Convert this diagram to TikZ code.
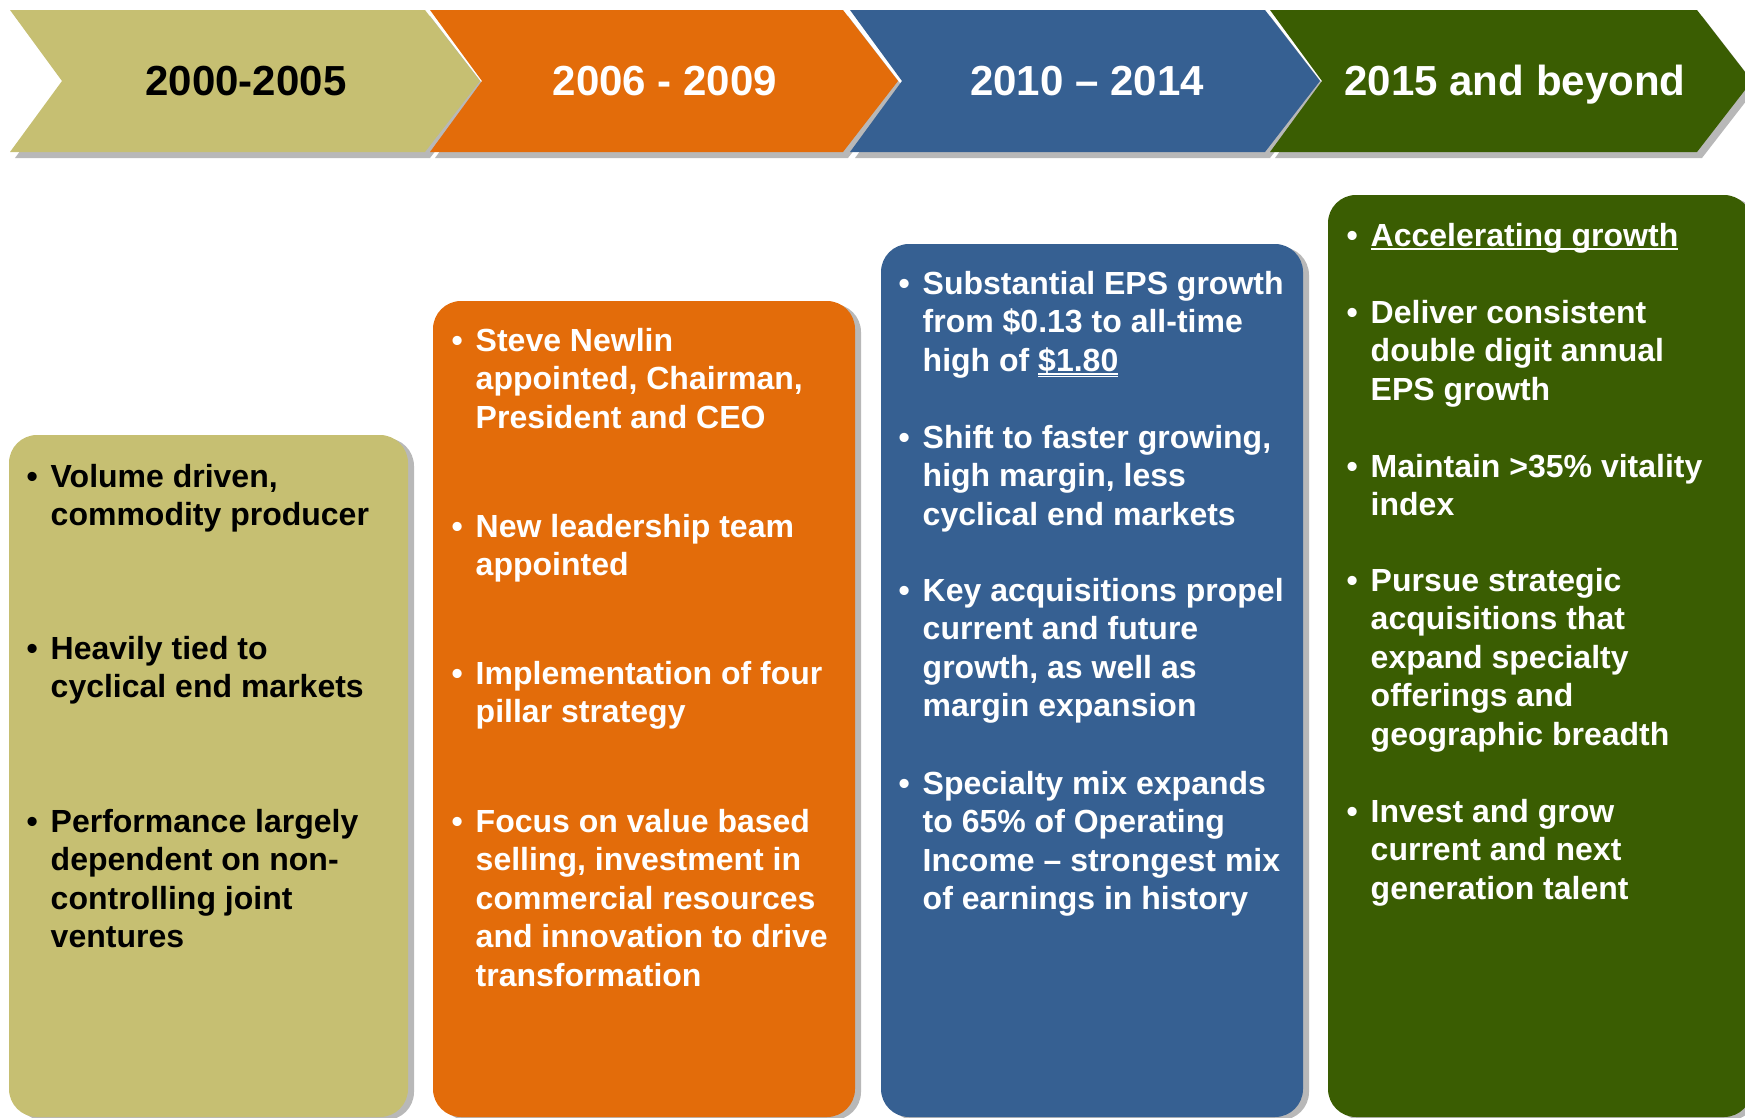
\documentclass[tikz,border=0pt]{standalone}
\usepackage{fontspec}
\setmainfont{Liberation Sans}
\usepackage{tikz}
\usetikzlibrary{shadows}
\definecolor{khaki}{HTML}{C6BF72}
\definecolor{amber}{HTML}{E36C0A}
\definecolor{steel}{HTML}{366092}
\definecolor{forest}{HTML}{3A5D02}
\tikzset{
  arrowbox/.style={drop shadow={shadow xshift=0.5mm, shadow yshift=-0.6mm, fill=black, opacity=0.28}},
  panel/.style={rounded corners=2.8mm, drop shadow={shadow xshift=0.6mm, shadow yshift=-0.3mm, fill=black, opacity=0.28}},
  head/.style={anchor=base, inner sep=0, font=\bfseries\fontsize{11.95pt}{14pt}\selectfont},
  item/.style={anchor=base west, inner sep=0, font=\bfseries\fontsize{9.1pt}{10.95pt}\selectfont},
}
\newsavebox{\ulbox}
\newcommand{\bul}[1]{\makebox[2.4mm][l]{•}\begin{tabular}[t]{@{}l@{}}#1\end{tabular}}
\newcommand{\uln}[1]{\sbox{\ulbox}{#1}\rlap{\rule[-0.13em]{\wd\ulbox}{0.06em}}\usebox{\ulbox}}
\newcommand{\uuln}[1]{\sbox{\ulbox}{#1}\rlap{\rule[-0.11em]{\wd\ulbox}{0.045em}}\rlap{\rule[-0.2em]{\wd\ulbox}{0.045em}}\usebox{\ulbox}}

\begin{document}
\begin{tikzpicture}[x=0.01cm, y=-0.01cm]
  \clip (0,0) rectangle (1745,1118);
  % period arrows
  \foreach \x/\w/\cx/\fc/\tc/\lab [count=\i] in {10/415/246/khaki/black/2000-2005, 430/413/665/amber/white/2006 - 2009,
      850/415/1087/steel/white/2010 – 2014, 1270/427/1515/forest/white/2015 and beyond}{
    \fill[arrowbox, \fc] (\x,10) -- ++(\w,0) -- ++(55,71) -- ++(-55,71) -- ++(-\w,0) -- ++(52,-71) -- cycle;
    \node[head, text=\tc] (h\i) at (\cx,95) {\lab};
  }

  % panels
  \fill[panel, khaki] (9,435) rectangle (408,1117);
  \fill[panel, amber] (433,301) rectangle (855,1117);
  \fill[panel, steel] (881,244) rectangle (1303,1117);
  \fill[panel, forest] (1328,195) rectangle (1752,1117);

  % 2000-2005
  \node[item] (a1) at (26,487) {\bul{Volume driven,\\commodity producer}};
  \node[item] (a2) at (26,659) {\bul{Heavily tied to\\cyclical end markets}};
  \node[item] (a3) at (26,832) {\bul{Performance largely\\dependent on non-\\controlling joint\\ventures}};

  % 2006-2009
  \begin{scope}[text=white]
  \node[item] (b1) at (451,351) {\bul{Steve Newlin\\appointed, Chairman,\\President and CEO}};
  \node[item] (b2) at (451,537) {\bul{New leadership team\\appointed}};
  \node[item] (b3) at (451,684) {\bul{Implementation of four\\pillar strategy}};
  \node[item] (b4) at (451,832) {\bul{Focus on value based\\selling, investment in\\commercial resources\\and innovation to drive\\transformation}};

  % 2010-2014
  \node[item] (c1) at (898,294) {\bul{Substantial EPS growth\\from \$0.13 to all-time\\high of \uuln{\$1.80}}};
  \node[item] (c2) at (898,448) {\bul{Shift to faster growing,\\high margin, less\\cyclical end markets}};
  \node[item] (c3) at (898,601) {\bul{Key acquisitions propel\\current and future\\growth, as well as\\margin expansion}};
  \node[item] (c4) at (898,794) {\bul{Specialty mix expands\\to 65\% of Operating\\Income – strongest mix\\of earnings in history}};

  % 2015 and beyond
  \node[item] (d1) at (1346,246) {\bul{\uln{Accelerating growth}}};
  \node[item] (d2) at (1346,323) {\bul{Deliver consistent\\double digit annual\\EPS growth}};
  \node[item] (d3) at (1346,477) {\bul{Maintain >35\% vitality\\index}};
  \node[item] (d4) at (1346,591) {\bul{Pursue strategic\\acquisitions that\\expand specialty\\offerings and\\geographic breadth}};
  \node[item] (d5) at (1346,822) {\bul{Invest and grow\\current and next\\generation talent}};
  \end{scope}
\end{tikzpicture}
\end{document}
